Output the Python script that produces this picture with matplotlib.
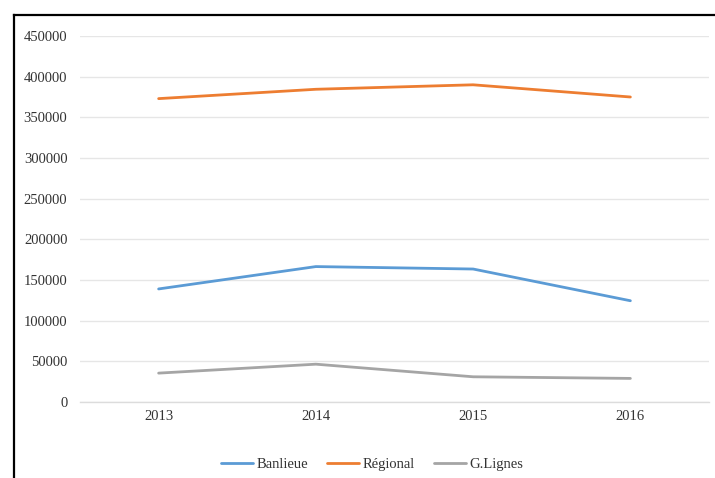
import matplotlib
matplotlib.use("Agg")
import matplotlib.pyplot as plt
from matplotlib.lines import Line2D

years = ["2013", "2014", "2015", "2016"]
banlieue = [139000, 166500, 163500, 124500]
regional = [373000, 384500, 390000, 375000]
glignes = [35500, 46500, 31000, 29000]
y_ticks = [0, 50000, 100000, 150000, 200000, 250000, 300000, 350000, 400000, 450000]

plt.rcParams["font.family"] = ["Liberation Serif", "DejaVu Serif"]

W, H = 715, 478
fig = plt.figure(figsize=(W / 100, H / 100), dpi=100)
ax = fig.add_axes([80 / W, (H - 402) / H, (709 - 80) / W, (402 - 36) / H])

x = list(range(len(years)))
ax.plot(x, banlieue, color="#5B9BD5", lw=2.0, label="Banlieue", solid_capstyle="round")
ax.plot(x, regional, color="#ED7D31", lw=2.0, label="Régional", solid_capstyle="round")
ax.plot(x, glignes, color="#A5A5A5", lw=2.0, label="G.Lignes", solid_capstyle="round")

ax.set_xlim(-0.5, len(years) - 0.5)
ax.set_ylim(0, 450000)
ax.set_xticks(x)
ax.set_xticklabels(years)
ax.set_yticks(y_ticks)
ax.set_yticklabels([str(v) for v in y_ticks])
ax.tick_params(axis="both", length=0, labelsize=10.5, colors="#333333")
ax.tick_params(axis="y", pad=9)
ax.tick_params(axis="x", pad=6)
ax.grid(axis="y", color="#e6e6e6", lw=1.0)
ax.axhline(0, color="#dcdcdc", lw=1.0, clip_on=False, zorder=0)
ax.set_axisbelow(True)
for s in ax.spines.values():
    s.set_visible(False)

fig.legend(loc="center", bbox_to_anchor=(372 / W, (H - 464) / H), ncol=3,
           frameon=False, fontsize=10.5, handlelength=2.2, columnspacing=1.3,
           handletextpad=0.25, labelcolor="#333333")

# outer frame (left and top edges)
fig.add_artist(Line2D([13.5 / W, 13.5 / W], [0, (H - 15) / H], color="black", lw=1.6,
                      transform=fig.transFigure))
fig.add_artist(Line2D([13.5 / W, 1.0], [(H - 15) / H, (H - 15) / H], color="black", lw=1.6,
                      transform=fig.transFigure))

fig.savefig("out.png", dpi=100)
